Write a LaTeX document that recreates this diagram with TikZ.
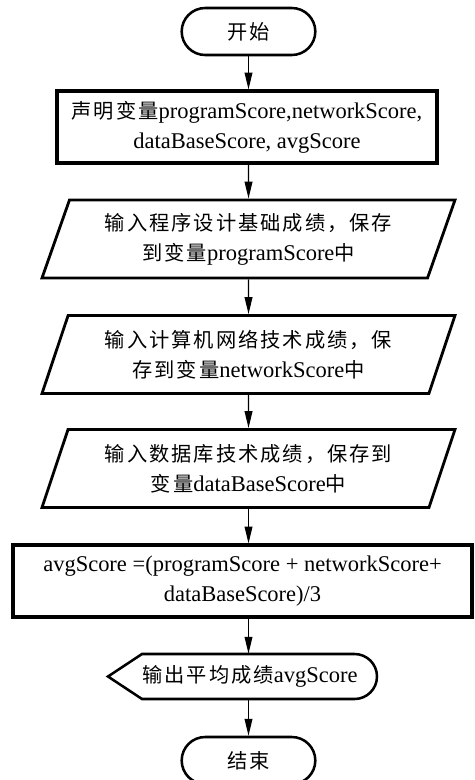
\documentclass[tikz,border=0pt]{standalone}
\usepackage{fontspec}
\setmainfont{Liberation Serif}
\newfontfamily\cjk[Scale=0.9,LetterSpace=10]{Noto Sans CJK SC}
\usetikzlibrary{arrows.meta, shapes.geometric, shapes.misc, calc}

\begin{document}
\begin{tikzpicture}[
    font=\fontsize{16pt}{21.2pt}\selectfont,
    terminal/.style={rounded rectangle, draw, line width=1.8pt, minimum width=3.575cm, minimum height=1.175cm},
    procbox/.style={rectangle, draw, line width=2.2pt, align=center, minimum height=1.8cm},
    inbox/.style={trapezium, draw, line width=2pt, align=center, trapezium left angle=65.8, trapezium right angle=114.2, trapezium stretches body, minimum width=10.325cm, minimum height=1.95cm},
    outbox/.style={align=center, minimum height=1.125cm, inner xsep=0pt},
    flow/.style={-{Triangle[length=12pt, width=5.5pt]}, line width=0.95pt}
  ]
    \useasboundingbox (0, 0) rectangle (11.875, -19.5);
    \node[terminal] (start) at (6.2125, -0.7875) {{\cjk 开始}};
    \node[procbox, minimum width=9.5cm] (decl) at (6.175, -3.175) {{\cjk 声明变量}programScore,networkScore,\\dataBaseScore, avgScore};
    \node[inbox] (in1) at (6.2125, -5.975) {{\cjk 输入程序设计基础成绩，保存}\\{\cjk 到变量}programScore{\cjk 中}};
    \node[inbox] (in2) at ($(in1) + (0, -2.8875)$) {{\cjk 输入计算机网络技术成绩，保}\\{\cjk 存到变量}networkScore{\cjk 中}};
    \node[inbox] (in3) at ($(in2) + (0, -2.85)$) {{\cjk 输入数据库技术成绩，保存到}\\{\cjk 变量}dataBaseScore{\cjk 中}};
    \node[procbox, minimum width=11.475cm] (calc) at (6.0625, -14.525) {avgScore =(programScore + networkScore+\\dataBaseScore)/3};
    \node[outbox] (out) at (6.25, -16.9125) {{\cjk 输出平均成绩}avgScore};
    \node[terminal] (end) at (6.2125, -19.0125) {{\cjk 结束}};
    \draw[line width=1.8pt] ($(out.center) + (-3.55, 0)$) -- ($(out.center) + (-2.7, 0.5625)$) -- ($(out.center) + (2.6125, 0.5625)$) arc[start angle=90, end angle=-90, radius=0.5625] -- ($(out.center) + (-2.7, -0.5625)$) -- cycle;
    \draw[flow] (start.south) -- (start.south |- decl.north);
    \draw[flow] (decl.south -| start) -- (in1.north);
    \draw[flow] (in1.south) -- (in2.north);
    \draw[flow] (in2.south) -- (in3.north);
    \draw[flow] (in3.south) -- (in3.south |- calc.north);
    \draw[flow] (calc.south -| start) -- (out.north -| start);
    \draw[flow] (out.south -| start) -- (end.north);
  \end{tikzpicture}
\end{document}
